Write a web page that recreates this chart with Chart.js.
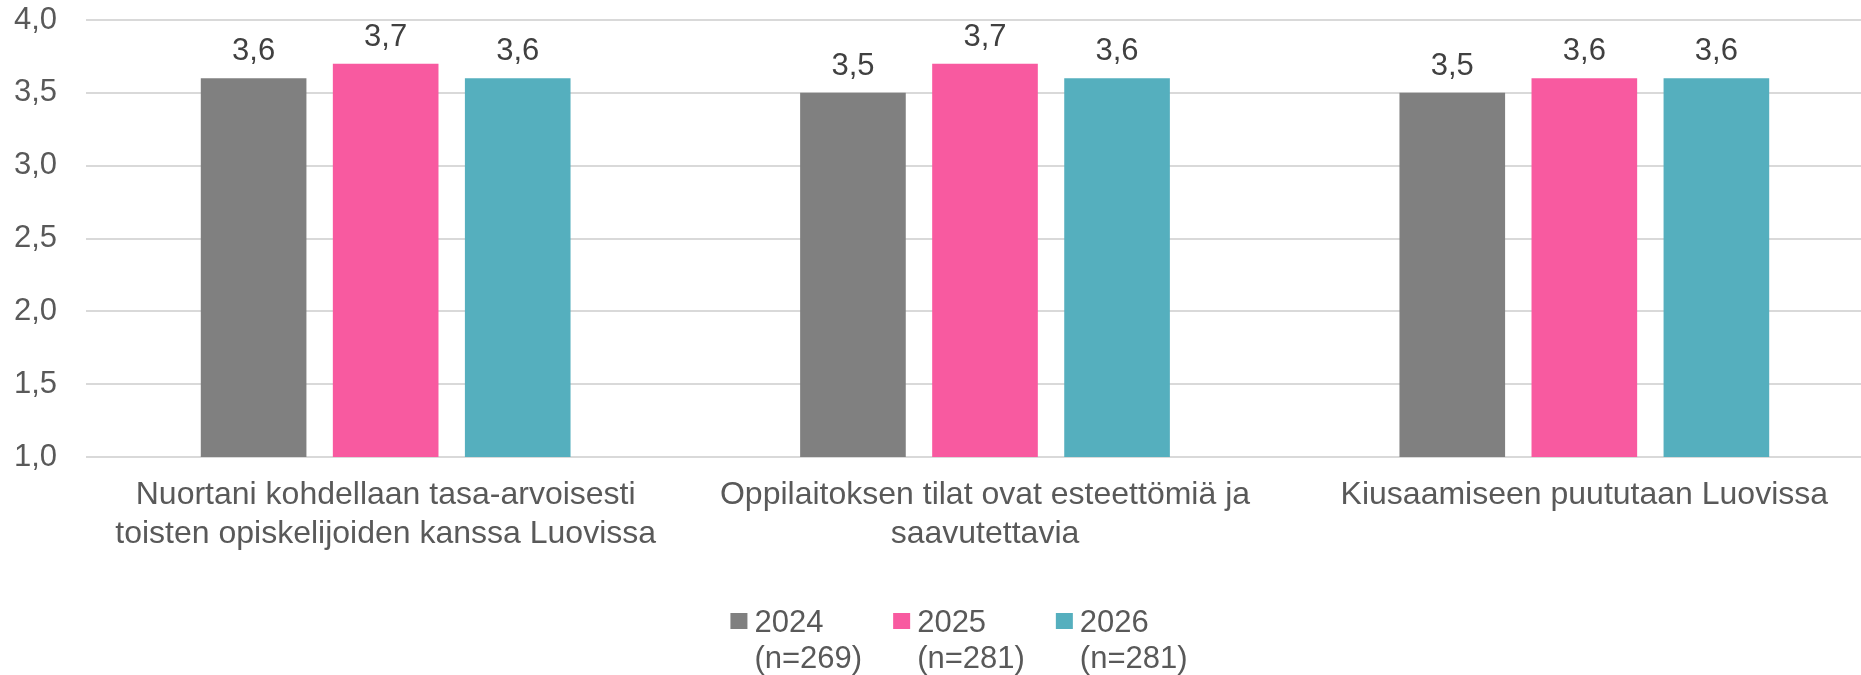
<!DOCTYPE html>
<html>
<head>
<meta charset="utf-8">
<script src="https://cdn.jsdelivr.net/npm/chart.js@4/dist/chart.umd.min.js"></script>
<style>
  html, body { margin: 0; padding: 0; background: #fff; overflow: hidden; }
</style>
</head>
<body>
<canvas id="plotChart" width="1918" height="675"></canvas>
<script>
// Chart data
const categories = [
  ["Nuortani kohdellaan tasa-arvoisesti", "toisten opiskelijoiden kanssa Luovissa"],
  ["Oppilaitoksen tilat ovat esteettömiä ja", "saavutettavia"],
  "Kiusaamiseen puututaan Luovissa",
];
const years = ["2024", "2025", "2026"];
const sampleSizes = ["(n=269)", "(n=281)", "(n=281)"];
const values2024 = [3.6, 3.5, 3.5];
const values2025 = [3.7, 3.7, 3.6];
const values2026 = [3.6, 3.6, 3.6];
const yTicks = [1.0, 1.5, 2.0, 2.5, 3.0, 3.5, 4.0];

const colors = ["#808080", "#F85AA0", "#55AFBE"];
const fontFamily = '"Liberation Sans", Arial, sans-serif';
const fontSize = 31;

// comma as decimal separator (fi)
const fmt = (v) => v.toFixed(1).replace(".", ",");

// Value labels above the bars
const valueLabels = {
  id: "valueLabels",
  afterDatasetsDraw(chart) {
    const ctx = chart.ctx;
    ctx.save();
    ctx.font = fontSize + "px " + fontFamily;
    ctx.fillStyle = "#404040";
    ctx.textAlign = "center";
    ctx.textBaseline = "alphabetic";
    chart.data.datasets.forEach((ds, i) => {
      chart.getDatasetMeta(i).data.forEach((bar, j) => {
        ctx.fillText(fmt(ds.data[j]), bar.x, bar.y - 18);
      });
    });
    ctx.restore();
  },
};

// Two line legend at the bottom (year + sample size)
const twoLineLegend = {
  id: "twoLineLegend",
  afterDraw(chart) {
    const ctx = chart.ctx;
    const box = 17;
    const gap = 31;
    ctx.save();
    ctx.font = fontSize + "px " + fontFamily;
    const widths = chart.data.datasets.map((ds, i) =>
      box + 7 + Math.max(ctx.measureText(years[i]).width, ctx.measureText(sampleSizes[i]).width)
    );
    const total = widths.reduce((a, b) => a + b, 0) + gap * (widths.length - 1);
    let x = chart.width / 2 - total / 2;
    const y1 = chart.height - 43;
    const y2 = y1 + 36;
    chart.data.datasets.forEach((ds, i) => {
      ctx.fillStyle = ds.backgroundColor;
      ctx.fillRect(x, y1 - 19, box, 16);
      ctx.fillStyle = "#595959";
      ctx.textAlign = "left";
      ctx.textBaseline = "alphabetic";
      ctx.fillText(years[i], x + box + 7, y1);
      ctx.fillText(sampleSizes[i], x + box + 7, y2);
      x += widths[i] + gap;
    });
    ctx.restore();
  },
};

const ctx = document.getElementById("plotChart").getContext("2d");
const plotChart = new Chart(ctx, {
  type: "bar",
  data: {
    labels: categories,
    datasets: [
      { label: years[0] + " " + sampleSizes[0], data: values2024, backgroundColor: colors[0] },
      { label: years[1] + " " + sampleSizes[1], data: values2025, backgroundColor: colors[1] },
      { label: years[2] + " " + sampleSizes[2], data: values2026, backgroundColor: colors[2] },
    ],
  },
  options: {
    responsive: false,
    animation: false,
    categoryPercentage: 0.661,
    barPercentage: 0.8,
    layout: {
      padding: { left: 14, right: 34, top: 20, bottom: 118 },
    },
    plugins: {
      legend: { display: false },
      tooltip: { enabled: false },
    },
    scales: {
      x: {
        grid: { display: false },
        border: { display: false },
        ticks: {
          color: "#595959",
          padding: 11,
          maxRotation: 0,
          autoSkip: false,
          font: { family: fontFamily, size: 32, lineHeight: 1.22 },
        },
        afterFit: (scale) => {
          scale.paddingLeft = 0;
          scale.paddingRight = 0;
          scale.height = 100;
        },
      },
      y: {
        min: 1,
        max: 4,
        border: { display: false },
        grid: { color: "#d9d9d9", lineWidth: 2, drawTicks: false },
        afterBuildTicks: (scale) => {
          scale.ticks = yTicks.map((v) => ({ value: v }));
        },
        afterFit: (scale) => {
          scale.paddingTop = 0;
          scale.paddingBottom = 0;
          scale.width = 72;
        },
        ticks: {
          color: "#595959",
          padding: 29,
          font: { family: fontFamily, size: fontSize },
          callback: (value) => fmt(value),
        },
      },
    },
  },
  plugins: [valueLabels, twoLineLegend],
});
</script>
</body>
</html>
